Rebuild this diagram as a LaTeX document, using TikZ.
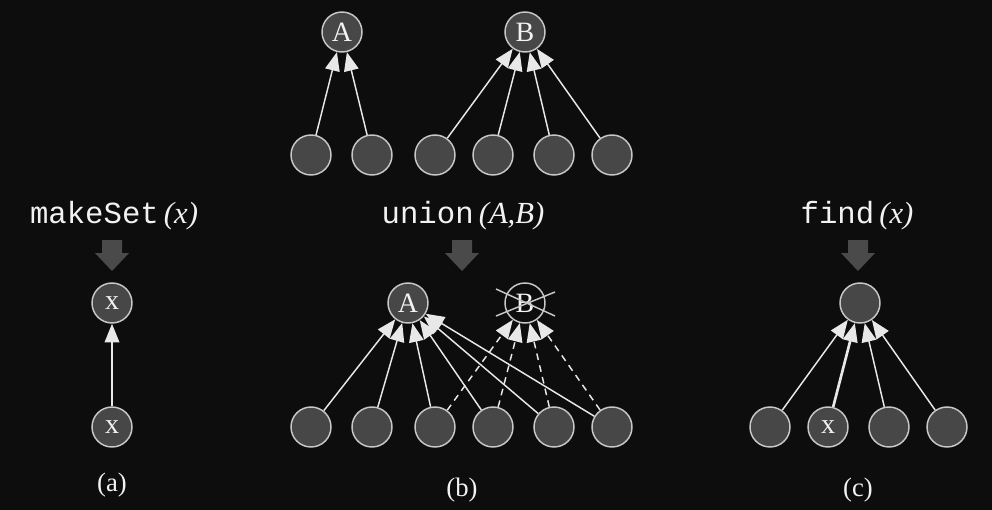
\documentclass[tikz,border=0pt]{standalone}
\usepackage{fontspec}
\setmainfont{Liberation Serif}
\setmonofont{Liberation Mono}
\usetikzlibrary{arrows.meta}
\definecolor{bg}{HTML}{0D0D0D}
\definecolor{nodefill}{HTML}{474747}
\definecolor{nodeline}{HTML}{C8C8C8}
\definecolor{edgecol}{HTML}{E8E8E8}
\definecolor{bigarrow}{HTML}{4A4A4A}
\definecolor{txt}{HTML}{F2F2F2}
\begin{document}
\begin{tikzpicture}[x=0.75pt,y=-0.75pt,
  vert/.style={circle,draw=nodeline,fill=nodefill,line width=1.1pt,minimum size=30pt,inner sep=0pt,text=txt,font=\fontsize{21}{22}\selectfont},
  ghost/.style={vert,fill=none},
  ptr/.style={draw=edgecol,line width=1.1pt,-{Triangle[length=14pt,width=11pt,fill=edgecol]}},
  dptr/.style={ptr,dash pattern=on 5pt off 4pt},
  thickptr/.style={ptr,line width=2pt},
  oplbl/.style={text=txt,font=\fontsize{23}{24}\selectfont,inner sep=0pt},
  panellbl/.style={text=txt,font=\fontsize{20}{22}\selectfont,inner sep=0pt},
  crossline/.style={draw=nodeline,line width=1.1pt}
]
\fill[bg] (0,0) rectangle (992,510);
\useasboundingbox (0,0) rectangle (992,510);

% top row
\node[vert] (tA) at (342,32) {A};
\node[vert] (tB) at (525,32) {B};
\foreach \i/\x in {1/311,2/372,3/435,4/493,5/554,6/612}
  \node[vert] (t\i) at (\x,155) {};
\draw[ptr] (t1) -- (tA);
\draw[ptr] (t2) -- (tA);
\foreach \i in {3,4,5,6} \draw[ptr] (t\i) -- (tB);

% operation labels
\node[oplbl] (lm) at (114,216) {\texttt{makeSet}\,\textit{(x)}};
\node[oplbl] (lu) at (463,216) {\texttt{union}\,\textit{(A,B)}};
\node[oplbl] (lf) at (857,216) {\texttt{find}\,\textit{(x)}};

% big down arrows
\foreach \x in {112,462,858}
  \fill[bigarrow] ({\x-10},240) -- ({\x+10},240) -- ({\x+10},253) -- ({\x+17},253)
    -- (\x,271) -- ({\x-17},253) -- ({\x-10},253) -- cycle;

% panel (a)
\node[vert] (ax) at (112,303) {x};
\node[vert] (ay) at (112,427) {x};
\draw[ptr] (ay) -- (ax);
\node[panellbl] (pa) at (112,485) {(a)};

% panel (b)
\node[vert] (bA) at (408,303) {A};
\node[ghost] (bB) at (525,303) {B};
\draw[crossline] (496,289) -- (555,316);
\draw[crossline] (496,316) -- (555,292);
\foreach \i/\x in {1/311,2/372,3/435,4/493,5/554,6/612}
  \node[vert] (b\i) at (\x,427) {};
\foreach \i in {3,4,5,6} \draw[dptr] (b\i) -- (bB);
\foreach \i in {1,2,3,4,5,6} \draw[ptr] (b\i) -- (bA);
\node[panellbl] (pb) at (462,490) {(b)};

% panel (c)
\node[vert] (cr) at (860,303) {};
\node[vert] (c1) at (770,427) {};
\node[vert] (c2) at (828,427) {x};
\node[vert] (c3) at (889,427) {};
\node[vert] (c4) at (947,427) {};
\draw[ptr] (c1) -- (cr);
\draw[thickptr] (c2) -- (cr);
\draw[ptr] (c3) -- (cr);
\draw[ptr] (c4) -- (cr);
\node[panellbl] (pc) at (858,490) {(c)};
\end{tikzpicture}
\end{document}
